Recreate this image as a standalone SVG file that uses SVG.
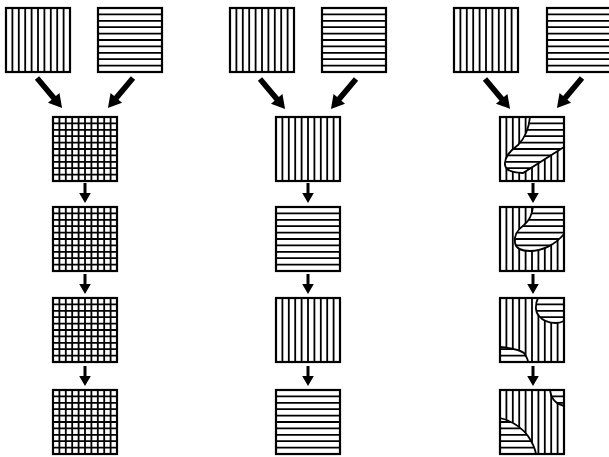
<svg xmlns="http://www.w3.org/2000/svg" xmlns:xlink="http://www.w3.org/1999/xlink" width="609" height="457" viewBox="0 0 609 457">
<style>
.bg{fill:#fff}
.ol{fill:#fff;stroke:#000;stroke-width:1.8}
</style>
<defs>
<path id="vs" fill="none" stroke="#000" stroke-width="1.8" d="M6.4,0V64M12.8,0V64M19.2,0V64M25.6,0V64M32,0V64M38.4,0V64M44.8,0V64M51.2,0V64M57.6,0V64"/>
<path id="hs" fill="none" stroke="#000" stroke-width="1.8" d="M0,6.4H64M0,12.8H64M0,19.2H64M0,25.6H64M0,32H64M0,38.4H64M0,44.8H64M0,51.2H64M0,57.6H64"/>
<rect id="fr" width="64" height="64" fill="none" stroke="#000" stroke-width="2.2"/>
<path id="da" d="M0,-2.8H26V-7.5L39,0L26,7.5V2.8H0Z"/>
<path id="dn" d="M-1.5,0V10H-5.8L0,20L5.8,10H1.5V0Z"/>
<path id="b1" d="M30,0C29,10 26,20 18,28C10,34 4,40 5,48C6,54 12,56 23,56L64,30V0Z"/>
<path id="b2" d="M33,0C32,8 29,14 24,18C17,23 14,30 15,36C16,42 22,44 30,44C42,44 55,38 64,27V0Z"/>
<path id="b3a" d="M38,0C35,6 35,14 39,18C43,23 50,25 56,25C60,25 62,24 64,23V0Z"/>
<path id="b3b" d="M0,49C10,50 20,52 24,55C26,58 28,61 28,64H0Z"/>
<path id="b4a" d="M50,0C51,8 55,14 64,16V0Z"/>
<path id="b4b" d="M0,28C12,31 22,38 28,46C32,52 35,58 36,64H0Z"/>
<clipPath id="k1"><use xlink:href="#b1"/></clipPath>
<clipPath id="k2"><use xlink:href="#b2"/></clipPath>
<clipPath id="k3a"><use xlink:href="#b3a"/></clipPath>
<clipPath id="k3b"><use xlink:href="#b3b"/></clipPath>
<clipPath id="k4a"><use xlink:href="#b4a"/></clipPath>
<clipPath id="k4b"><use xlink:href="#b4b"/></clipPath>
</defs>
<rect width="609" height="457" fill="#fff"/>

<!-- column 1 -->
<g id="c1-vertical-input" transform="translate(6,8)"><rect class="bg" width="64" height="64"/><use xlink:href="#vs"/><use xlink:href="#fr"/></g>
<g id="c1-horizontal-input" transform="translate(98,8)"><rect class="bg" width="64" height="64"/><use xlink:href="#hs"/><use xlink:href="#fr"/></g>
<g id="c1-r1" transform="translate(53,117)"><rect class="bg" width="64" height="64"/><use xlink:href="#vs"/><use xlink:href="#hs"/><use xlink:href="#fr"/></g>
<g id="c1-r2" transform="translate(53,207)"><rect class="bg" width="64" height="64"/><use xlink:href="#vs"/><use xlink:href="#hs"/><use xlink:href="#fr"/></g>
<g id="c1-r3" transform="translate(53,298)"><rect class="bg" width="64" height="64"/><use xlink:href="#vs"/><use xlink:href="#hs"/><use xlink:href="#fr"/></g>
<g id="c1-r4" transform="translate(53,390)"><rect class="bg" width="64" height="64"/><use xlink:href="#vs"/><use xlink:href="#hs"/><use xlink:href="#fr"/></g>

<!-- column 2 -->
<g id="c2-vertical-input" transform="translate(230,8)"><rect class="bg" width="64" height="64"/><use xlink:href="#vs"/><use xlink:href="#fr"/></g>
<g id="c2-horizontal-input" transform="translate(322,8)"><rect class="bg" width="64" height="64"/><use xlink:href="#hs"/><use xlink:href="#fr"/></g>
<g id="c2-r1" transform="translate(276,117)"><rect class="bg" width="64" height="64"/><use xlink:href="#vs"/><use xlink:href="#fr"/></g>
<g id="c2-r2" transform="translate(276,207)"><rect class="bg" width="64" height="64"/><use xlink:href="#hs"/><use xlink:href="#fr"/></g>
<g id="c2-r3" transform="translate(276,298)"><rect class="bg" width="64" height="64"/><use xlink:href="#vs"/><use xlink:href="#fr"/></g>
<g id="c2-r4" transform="translate(276,390)"><rect class="bg" width="64" height="64"/><use xlink:href="#hs"/><use xlink:href="#fr"/></g>

<!-- column 3 -->
<g id="c3-vertical-input" transform="translate(454,8)"><rect class="bg" width="64" height="64"/><use xlink:href="#vs"/><use xlink:href="#fr"/></g>
<g id="c3-horizontal-input" transform="translate(547,8)"><rect class="bg" width="64" height="64"/><use xlink:href="#hs"/><use xlink:href="#fr"/></g>
<g id="c3-r1" transform="translate(500,117)"><rect class="bg" width="64" height="64"/><use xlink:href="#vs"/>
<use xlink:href="#b1" class="ol"/><use xlink:href="#hs" clip-path="url(#k1)"/><use xlink:href="#fr"/></g>
<g id="c3-r2" transform="translate(500,207)"><rect class="bg" width="64" height="64"/><use xlink:href="#vs"/>
<use xlink:href="#b2" class="ol"/><use xlink:href="#hs" clip-path="url(#k2)"/><use xlink:href="#fr"/></g>
<g id="c3-r3" transform="translate(500,298)"><rect class="bg" width="64" height="64"/><use xlink:href="#vs"/>
<use xlink:href="#b3a" class="ol"/><use xlink:href="#hs" clip-path="url(#k3a)"/>
<use xlink:href="#b3b" class="ol"/><use xlink:href="#hs" clip-path="url(#k3b)"/><use xlink:href="#fr"/></g>
<g id="c3-r4" transform="translate(500,390)"><rect class="bg" width="64" height="64"/><use xlink:href="#vs"/>
<use xlink:href="#b4a" class="ol"/><use xlink:href="#hs" clip-path="url(#k4a)"/>
<use xlink:href="#b4b" class="ol"/><use xlink:href="#hs" clip-path="url(#k4b)"/><use xlink:href="#fr"/></g>

<g id="connectors" fill="#000">
<use xlink:href="#da" transform="translate(37,78) rotate(50)"/>
<use xlink:href="#da" transform="translate(133,78) rotate(130)"/>
<use xlink:href="#da" transform="translate(260,79) rotate(50)"/>
<use xlink:href="#da" transform="translate(356,79) rotate(130)"/>
<use xlink:href="#da" transform="translate(485,79) rotate(50)"/>
<use xlink:href="#da" transform="translate(582,78) rotate(130)"/>
<use xlink:href="#dn" x="85" y="183"/>
<use xlink:href="#dn" x="85" y="274"/>
<use xlink:href="#dn" x="85" y="366"/>
<use xlink:href="#dn" x="308" y="183"/>
<use xlink:href="#dn" x="308" y="274"/>
<use xlink:href="#dn" x="308" y="366"/>
<use xlink:href="#dn" x="533" y="183"/>
<use xlink:href="#dn" x="533" y="274"/>
<use xlink:href="#dn" x="533" y="366"/>
</g>
</svg>
